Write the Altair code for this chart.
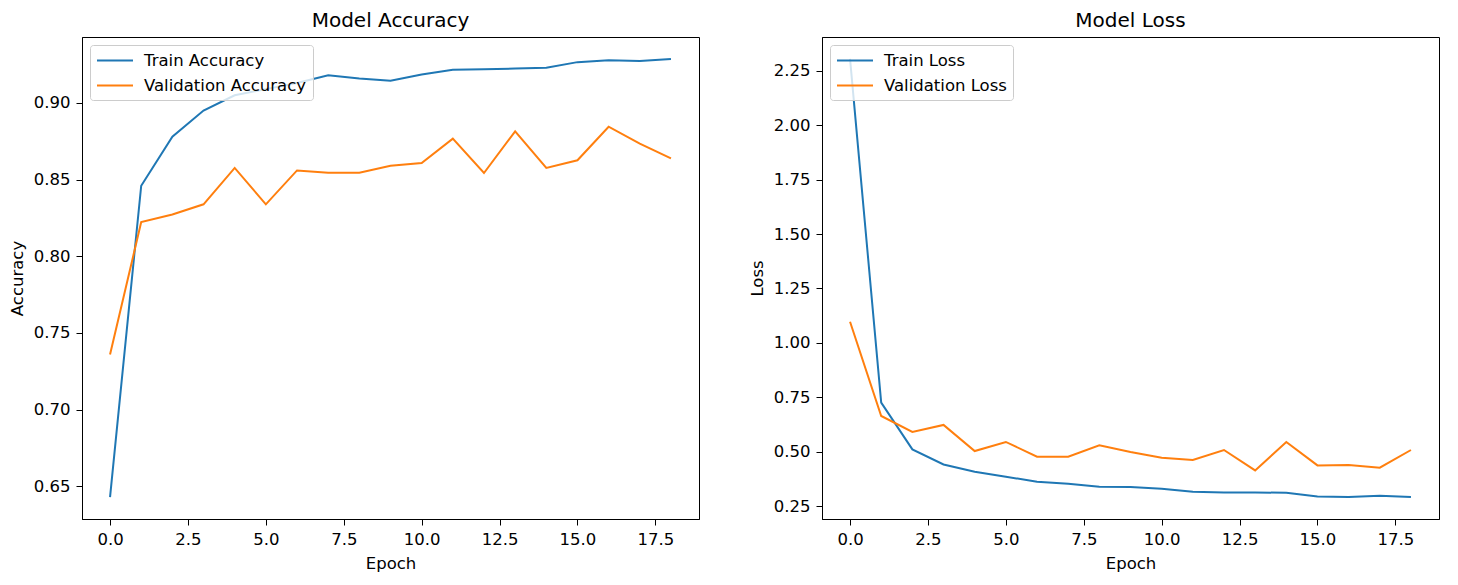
import altair as alt
import pandas as pd

# ---- data ----
epochs = list(range(19))
train_acc = [0.643, 0.846, 0.878, 0.895, 0.905, 0.909, 0.913, 0.918, 0.916, 0.9145,
             0.9185, 0.9217, 0.922, 0.9224, 0.923, 0.9266, 0.9278, 0.9274, 0.9287]
val_acc = [0.736, 0.8223, 0.8273, 0.8339, 0.8576, 0.8339, 0.856, 0.8545, 0.8545, 0.8591,
           0.8608, 0.8767, 0.8543, 0.8815, 0.8576, 0.8626, 0.8845, 0.8734, 0.8639]
train_loss = [2.305, 0.7256, 0.5106, 0.4415, 0.408, 0.385, 0.362, 0.3527, 0.339, 0.3375,
              0.3297, 0.3158, 0.3127, 0.3127, 0.3112, 0.294, 0.2914, 0.2975, 0.2914]
val_loss = [1.097, 0.664, 0.5907, 0.623, 0.503, 0.5447, 0.477, 0.477, 0.529, 0.4986,
            0.4724, 0.4618, 0.5078, 0.414, 0.5447, 0.437, 0.4388, 0.4263, 0.5078]

x_ticks = [0.0, 2.5, 5.0, 7.5, 10.0, 12.5, 15.0, 17.5]
acc_ticks = [0.65, 0.70, 0.75, 0.80, 0.85, 0.90]
loss_ticks = [0.25, 0.50, 0.75, 1.00, 1.25, 1.50, 1.75, 2.00, 2.25]

acc_names = ["Train Accuracy", "Validation Accuracy"]
loss_names = ["Train Loss", "Validation Loss"]
colors = ["#1f77b4", "#ff7f0e"]

FONT = "DejaVu Sans"


def padded(vals):
    lo, hi = min(vals), max(vals)
    m = 0.05 * (hi - lo)
    return [lo - m, hi + m]


def panel(title, ytitle, names, s1, s2, yticks):
    df = pd.DataFrame({
        "Epoch": epochs + epochs,
        "value": s1 + s2,
        "series": [names[0]] * len(s1) + [names[1]] * len(s2),
    })
    return alt.Chart(df, title=title).mark_line(strokeWidth=2).encode(
        x=alt.X("Epoch:Q",
                scale=alt.Scale(domain=padded(epochs), nice=False, zero=False),
                axis=alt.Axis(values=x_ticks, format=".1f", title="Epoch")),
        y=alt.Y("value:Q",
                scale=alt.Scale(domain=padded(s1 + s2), nice=False, zero=False),
                axis=alt.Axis(values=yticks, format=".2f", title=ytitle)),
        color=alt.Color("series:N",
                        scale=alt.Scale(domain=names, range=colors),
                        legend=alt.Legend(
                            title=None, orient="top-left", offset=8,
                            symbolType="M-1,0H3.235", symbolSize=289,
                            symbolStrokeWidth=2, labelOffset=29, rowPadding=7,
                            padding=6, fillColor="rgba(255,255,255,0.8)",
                            strokeColor="#cccccc", cornerRadius=3,
                            labelLimit=400,
                            labelFontSize=16.5, labelFont=FONT, labelColor="black")),
        order=alt.Order("series:N"),
    ).properties(width=617, height=482)


left = panel("Model Accuracy", "Accuracy", acc_names, train_acc, val_acc, acc_ticks)
right = panel("Model Loss", "Loss", loss_names, train_loss, val_loss, loss_ticks)

chart = alt.hconcat(left, right, spacing=48).resolve_scale(
    color="independent", x="independent", y="independent"
).properties(
    padding={"left": 0, "top": 2, "right": 0, "bottom": 0}
).configure_view(
    stroke="black", strokeWidth=1
).configure_axis(
    grid=False, domainColor="black", domainWidth=1, tickColor="black",
    tickSize=6, tickWidth=1, labelFont=FONT, labelFontSize=16.5,
    labelColor="black", labelPadding=6, titleFont=FONT, titleFontSize=16.5,
    titleFontWeight="normal", titleColor="black", titlePadding=8
).configure_title(
    font=FONT, fontSize=20, fontWeight="normal", color="black", offset=6
)

chart.save("out.html", embed_options={"renderer": "svg", "actions": False})
